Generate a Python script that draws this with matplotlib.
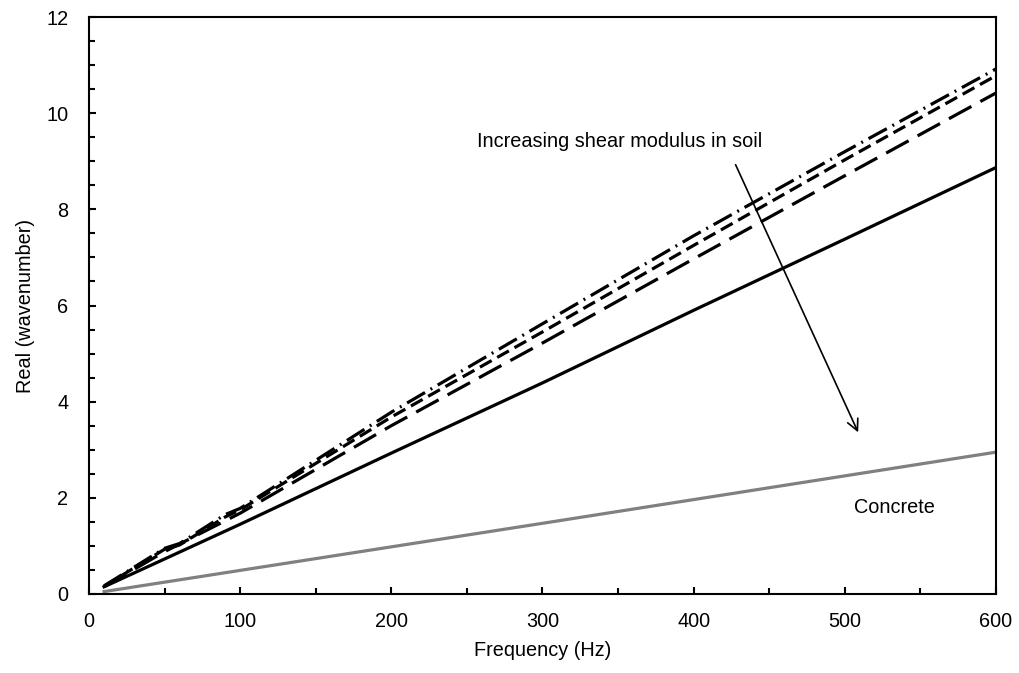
import matplotlib
matplotlib.use("Agg")
import matplotlib.pyplot as plt
from matplotlib.ticker import MultipleLocator

plt.rcParams['font.family'] = ['Liberation Sans', 'DejaVu Sans']

# Data
freq_dd = [10, 50, 60, 90, 100, 200, 300, 400, 500, 600]
dashdot = [0.17, 0.95, 1.05, 1.65, 1.78, 3.78, 5.62, 7.45, 9.20, 10.92]
freq_md = [10, 50, 60, 90, 100, 200, 300, 400, 500, 600]
meddash = [0.16, 0.93, 1.02, 1.60, 1.75, 3.68, 5.45, 7.25, 9.03, 10.78]
freq_ld = [10, 50, 100, 200, 300, 400, 500, 600]
longdash = [0.15, 0.88, 1.68, 3.50, 5.22, 6.97, 8.70, 10.42]
freq_s = [10, 100, 200, 300, 400, 500, 600]
solid = [0.15, 1.45, 2.93, 4.39, 5.90, 7.38, 8.87]
freq_c = [10, 300, 600]
concrete = [0.05, 1.47, 2.95]

fig = plt.figure(figsize=(10.19, 6.73), dpi=100)
ax = fig.add_axes([0.0873, 0.1174, 0.8901, 0.8573])

lw = 2.3
ax.plot(freq_dd, dashdot, color='black', lw=lw, dashes=(6.5, 2.0, 0.6, 2.0))
ax.plot(freq_md, meddash, color='black', lw=lw, dashes=(4.2, 2.0))
ax.plot(freq_ld, longdash, color='black', lw=lw, dashes=(8.0, 3.2))
ax.plot(freq_s, solid, color='black', lw=lw)
ax.plot(freq_c, concrete, color='#808080', lw=lw)

ax.set_xlim(0, 600)
ax.set_ylim(0, 12)
ax.xaxis.set_major_locator(MultipleLocator(100))
ax.xaxis.set_minor_locator(MultipleLocator(50))
ax.yaxis.set_major_locator(MultipleLocator(2))
ax.yaxis.set_minor_locator(MultipleLocator(0.5))
fs = 14.3
ax.tick_params(which='both', direction='in', top=False, right=False, width=1.5, labelsize=fs)
ax.tick_params(which='major', length=5)
ax.tick_params(axis='x', which='major', pad=13)
ax.tick_params(axis='y', which='major', pad=15)
ax.tick_params(which='minor', length=4)
for s in ax.spines.values():
    s.set_linewidth(1.5)

ax.set_xlabel('Frequency (Hz)', fontsize=fs, labelpad=7)
ax.set_ylabel('Real (wavenumber)', fontsize=fs, labelpad=8)

ax.text(257, 9.42, 'Increasing shear modulus in soil', fontsize=fs, ha='left', va='center')
ax.annotate('', xy=(509.6, 3.31), xytext=(427, 8.98),
            arrowprops=dict(arrowstyle='->', color='black', lw=1.2, mutation_scale=20))
ax.text(506, 1.79, 'Concrete', fontsize=fs, ha='left', va='center')

fig.savefig('out.png', dpi=100)
